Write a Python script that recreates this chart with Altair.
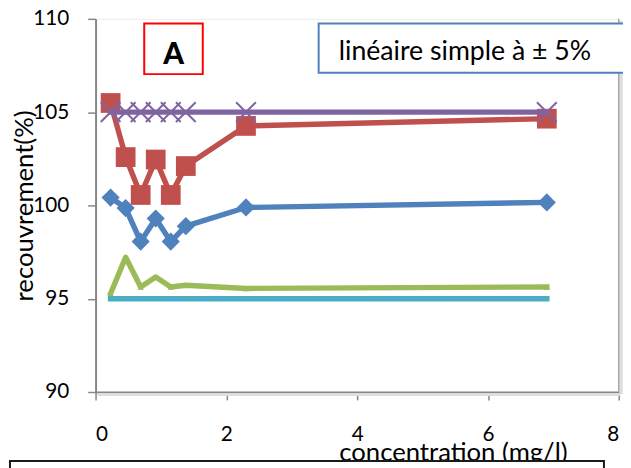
import altair as alt
import pandas as pd

# ---- data ----
conc = [0.23, 0.46, 0.69, 0.92, 1.15, 1.38, 2.3, 6.9]
blue_vals = [100.42, 99.86, 98.06, 99.30, 98.06, 98.89, 99.89, 100.16]
red_vals = [105.49, 102.59, 100.56, 102.46, 100.56, 102.11, 104.26, 104.65]
green_vals = [95.28, 97.22, 95.63, 96.16, 95.63, 95.72, 95.55, 95.63]
purple_vals = [105, 105, 105, 105, 105, 105, 105, 105]
cyan_vals = [95, 95, 95, 95, 95, 95, 95, 95]

x_ticks = [0, 2, 4, 6, 8]
y_ticks = [90, 95, 100, 105, 110]

label_A = "A"
label_box = "linéaire simple à ± 5%"
x_title = "concentration (mg/l)"
y_title = "recouvrement(%)"

FONT = "Lato"
W, H = 530, 378

xs = alt.Scale(domain=[0, 8], nice=False, zero=False)
ys = alt.Scale(domain=[90, 110], nice=False, zero=False)

x_axis = alt.Axis(values=x_ticks, title=x_title, grid=False, tickSize=8,
                  labelPadding=41, labelBaseline="alphabetic",
                  titleX=362, titleY=69, titleAlign="center",
                  titleBaseline="alphabetic", titleAnchor="start")
y_axis = alt.Axis(values=y_ticks, title=y_title, grid=False, tickSize=8,
                  labelPadding=19,
                  titleX=-64, titleY=189, titleAngle=270, titleAlign="center",
                  titleBaseline="alphabetic", titleAnchor="start")

X_ENC = alt.X("x:Q", scale=xs, axis=x_axis)
Y_ENC = alt.Y("y:Q", scale=ys, axis=y_axis)


def series_df(vals):
    return pd.DataFrame({"x": conc, "y": vals})


def line(vals, color, cap="square"):
    return alt.Chart(series_df(vals)).mark_line(
        color=color, strokeWidth=5.5, strokeCap=cap, strokeJoin="round"
    ).encode(x=X_ENC, y=Y_ENC)


def pts(vals, color, shape, size, filled=True, sw=1):
    return alt.Chart(series_df(vals)).mark_point(
        shape=shape, size=size, filled=filled, color=color, opacity=1,
        strokeWidth=sw
    ).encode(x=X_ENC, y=Y_ENC)


one = pd.DataFrame({"k": [0]})

# plot-area borders (right + shadow)
right_border = alt.Chart(one).mark_rule(color="#a6a6a6", strokeWidth=1.5).encode(
    x=alt.value(W), y=alt.value(0), y2=alt.value(H))
right_shadow = alt.Chart(one).mark_rule(color="#dedede", strokeWidth=3).encode(
    x=alt.value(W + 2.5), y=alt.value(2), y2=alt.value(H + 2))
bottom_shadow = alt.Chart(one).mark_rule(color="#dedede", strokeWidth=3).encode(
    x=alt.value(2), x2=alt.value(W + 2), y=alt.value(H + 2.5))

blue_l = line(blue_vals, "#4F81BD")
blue_p = pts(blue_vals, "#4F81BD", "diamond", 340)
red_l = line(red_vals, "#C0504D")
red_p = pts(red_vals, "#C0504D", "square", 400)
green_l = line(green_vals, "#9BBB59")
green_p = pts(green_vals, "#9BBB59", "triangle-up", 40)
purple_l = line(purple_vals, "#8064A2")
purple_p = pts(purple_vals, "#8064A2", "M-1,-1L1,1M-1,1L1,-1", 400, filled=False, sw=2)
cyan_l = line(cyan_vals, "#4BACC6")

box_A = alt.Chart(one).mark_rect(fill="white", stroke="#FF0000", strokeWidth=2).encode(
    x=alt.value(49.3), x2=alt.value(108.6), y=alt.value(4.7), y2=alt.value(56))
text_A = alt.Chart(one).mark_text(text=label_A, font=FONT, fontSize=30, fontWeight=900,
                                  color="black", align="center", baseline="alphabetic").encode(
    x=alt.value(79), y=alt.value(45.7))
box_L = alt.Chart(one).mark_rect(fill="white", stroke="#4F81BD", strokeWidth=2).encode(
    x=alt.value(226), x2=alt.value(560), y=alt.value(4.7), y2=alt.value(54.7))
text_L = alt.Chart(one).mark_text(text=label_box, font=FONT, fontSize=27,
                                  color="black", align="left", baseline="alphabetic").encode(
    x=alt.value(246.3), y=alt.value(41.3))

legend_box = alt.Chart(one).mark_rect(fill="white", stroke="#1a1a1a", strokeWidth=2).encode(
    x=alt.value(-86.7), x2=alt.value(515), y=alt.value(448), y2=alt.value(475))

chart = alt.layer(
    right_shadow, bottom_shadow, right_border,
    blue_l, blue_p, red_l, red_p, green_l, green_p, purple_l, purple_p, cyan_l,
    box_A, text_A, box_L, text_L, legend_box
).properties(
    width=W, height=H,
    autosize=alt.AutoSizeParams(type="none"),
    padding={"left": 88.7, "top": 8, "right": 4.3, "bottom": 74},
).configure_view(
    stroke="#ececec", strokeWidth=1
).configure_axis(
    domainColor="#868686", domainWidth=2, tickColor="#868686", tickWidth=1.5,
    labelFont=FONT, labelFontSize=21, labelColor="black",
    titleFont=FONT, titleFontSize=26, titleFontWeight="normal", titleColor="black",
)

chart.save("out.html", embed_options={"renderer": "svg", "actions": False})
